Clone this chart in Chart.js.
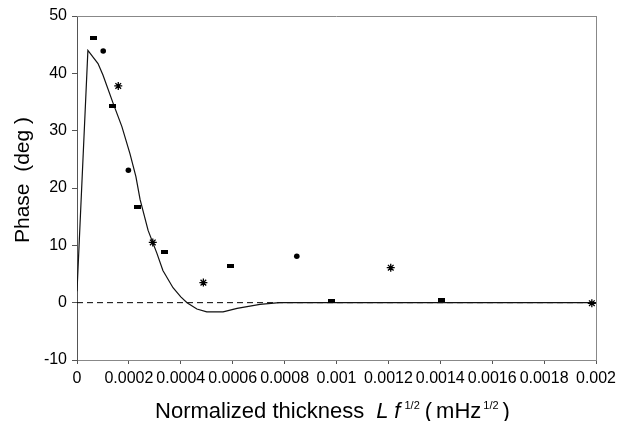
<!DOCTYPE html>
<html>
<head>
<meta charset="utf-8">
<script src="https://cdn.jsdelivr.net/npm/chart.js@4"></script>
<style>
  html, body { margin: 0; padding: 0; background: #fff; }
  #wrap { width: 629px; height: 421px; }
</style>
</head>
<body>
<div id="wrap"><canvas id="c" width="629" height="421"></canvas></div>
<script>
// ---- data ----
const xTickValues = [0, 0.0002, 0.0004, 0.0006, 0.0008, 0.001, 0.0012, 0.0014, 0.0016, 0.0018, 0.002];
const xTickLabels = ['0', '0.0002', '0.0004', '0.0006', '0.0008', '0.001', '0.0012', '0.0014', '0.0016', '0.0018', '0.002'];
const yTickValues = [-10, 0, 10, 20, 30, 40, 50];

const curveX = [0, 0.000042, 0.000081, 0.0001, 0.000139, 0.000173, 0.000204, 0.000227, 0.000243, 0.000274, 0.000308, 0.000331, 0.00037, 0.0004, 0.000424, 0.000462, 0.0005, 0.000563, 0.000617, 0.000705, 0.00078, 0.001, 0.0015, 0.002];
const curveY = [2, 44, 41.7, 39.7, 34.8, 30.7, 26, 22, 18, 12.6, 8.6, 5.6, 2.6, 1.0, 0, -1.1, -1.6, -1.6, -1.0, -0.3, 0, 0, 0, 0];

const zeroX = [0, 0.002];
const zeroY = [0, 0];

const squareX = [0.0000628, 0.000136, 0.000234, 0.000337, 0.000592, 0.000982, 0.001405];
const squareY = [46.1, 34.3, 16.6, 8.9, 6.4, 0.3, 0.4];

const circleX = [0.000101, 0.000198, 0.000847];
const circleY = [43.9, 23.1, 8.1];

const starX = [0.000159, 0.000292, 0.000487, 0.001209, 0.001984];
const starY = [37.8, 10.5, 3.5, 6.1, -0.1];

// ---- helpers ----
const pts = (xs, ys) => xs.map((x, i) => ({ x: x, y: ys[i] }));

const sq = document.createElement('canvas');
sq.width = 7; sq.height = 4;
(function () { const g = sq.getContext('2d'); g.fillStyle = '#000'; g.fillRect(0, 0, 7, 4); })();

const FONT = "'Liberation Sans', Arial, sans-serif";

const framePlugin = {
  id: 'frame',
  afterDraw(chart) {
    const ctx = chart.ctx;
    const a = chart.chartArea;
    ctx.save();
    ctx.strokeStyle = '#888';
    ctx.lineWidth = 1;
    ctx.beginPath();
    ctx.moveTo(a.left, Math.round(a.top) + 0.5);
    ctx.lineTo(a.right, Math.round(a.top) + 0.5);
    ctx.moveTo(Math.round(a.right) + 0.5, a.top);
    ctx.lineTo(Math.round(a.right) + 0.5, a.bottom);
    ctx.stroke();

    // y axis title
    ctx.fillStyle = '#000';
    ctx.save();
    ctx.translate(23, 180);
    ctx.rotate(-Math.PI / 2);
    ctx.font = '21px ' + FONT;
    ctx.textAlign = 'center';
    ctx.textBaseline = 'middle';
    ctx.fillText('Phase  (deg )', 0, 0);
    ctx.restore();

    // x axis title with superscripts
    const base = 418;
    const big = '22px ' + FONT;
    const ital = 'italic 22px ' + FONT;
    const small = '11px ' + FONT;
    const parts = [
      { t: 'Normalized thickness', f: big, dy: 0, gap: 12 },
      { t: 'L', f: ital, dy: 0, gap: 6 },
      { t: 'f', f: ital, dy: 0, gap: 4 },
      { t: '1/2', f: small, dy: -9, gap: 5 },
      { t: '(', f: big, dy: 0, gap: 4 },
      { t: 'mHz', f: big, dy: 0, gap: 2 },
      { t: '1/2', f: small, dy: -9, gap: 4 },
      { t: ')', f: big, dy: 0, gap: 0 }
    ];
    let total = 0;
    parts.forEach(p => { ctx.font = p.f; p.w = ctx.measureText(p.t).width; total += p.w + p.gap; });
    let x = (a.left + a.right) / 2 - 4 - total / 2;
    ctx.textAlign = 'left';
    ctx.textBaseline = 'alphabetic';
    parts.forEach(p => { ctx.font = p.f; ctx.fillText(p.t, x, base + p.dy); x += p.w + p.gap; });
    ctx.restore();
  }
};

new Chart(document.getElementById('c'), {
  type: 'scatter',
  data: {
    datasets: [
      { data: pts(zeroX, zeroY), showLine: true, borderColor: '#000', borderWidth: 1, borderDash: [6, 4], pointRadius: 0, order: 3 },
      { data: pts(curveX, curveY), showLine: true, borderColor: '#111', borderWidth: 1.2, pointRadius: 0, tension: 0, order: 2 },
      { data: pts(squareX, squareY), pointStyle: sq, pointRadius: 4, backgroundColor: '#000', borderColor: '#000', order: 1 },
      { data: pts(circleX, circleY), pointStyle: 'circle', pointRadius: 2.8, backgroundColor: '#000', borderColor: '#000', borderWidth: 0, order: 1 },
      { data: pts(starX, starY), pointStyle: 'star', pointRadius: 4, backgroundColor: '#000', borderColor: '#000', borderWidth: 1.3, order: 1 }
    ]
  },
  options: {
    responsive: false,
    animation: false,
    devicePixelRatio: 1,
    layout: { padding: { top: 16, right: 33, left: 0, bottom: 0 } },
    plugins: { legend: { display: false }, tooltip: { enabled: false } },
    scales: {
      x: {
        type: 'linear',
        min: 0, max: 0.002,
        afterBuildTicks: s => { s.ticks = xTickValues.map(v => ({ value: v })); },
        afterFit: s => { s.height = 61; },
        grid: { display: true, drawOnChartArea: false, drawTicks: true, tickLength: 4, color: '#555' },
        border: { display: true, color: '#888', width: 1 },
        ticks: {
          color: '#000', padding: 5, maxRotation: 0, autoSkip: false,
          font: { family: FONT, size: 16 },
          callback: (v, i) => xTickLabels[i]
        }
      },
      y: {
        type: 'linear',
        min: -10, max: 50,
        afterBuildTicks: s => { s.ticks = yTickValues.map(v => ({ value: v })); },
        afterFit: s => { s.width = 77; },
        grid: { display: true, drawOnChartArea: false, drawTicks: true, tickLength: 5, color: '#555' },
        border: { display: true, color: '#555', width: 1 },
        ticks: {
          color: '#000', padding: 5,
          font: { family: FONT, size: 16 },
          callback: v => String(v)
        }
      }
    }
  },
  plugins: [framePlugin]
});
</script>
</body>
</html>
